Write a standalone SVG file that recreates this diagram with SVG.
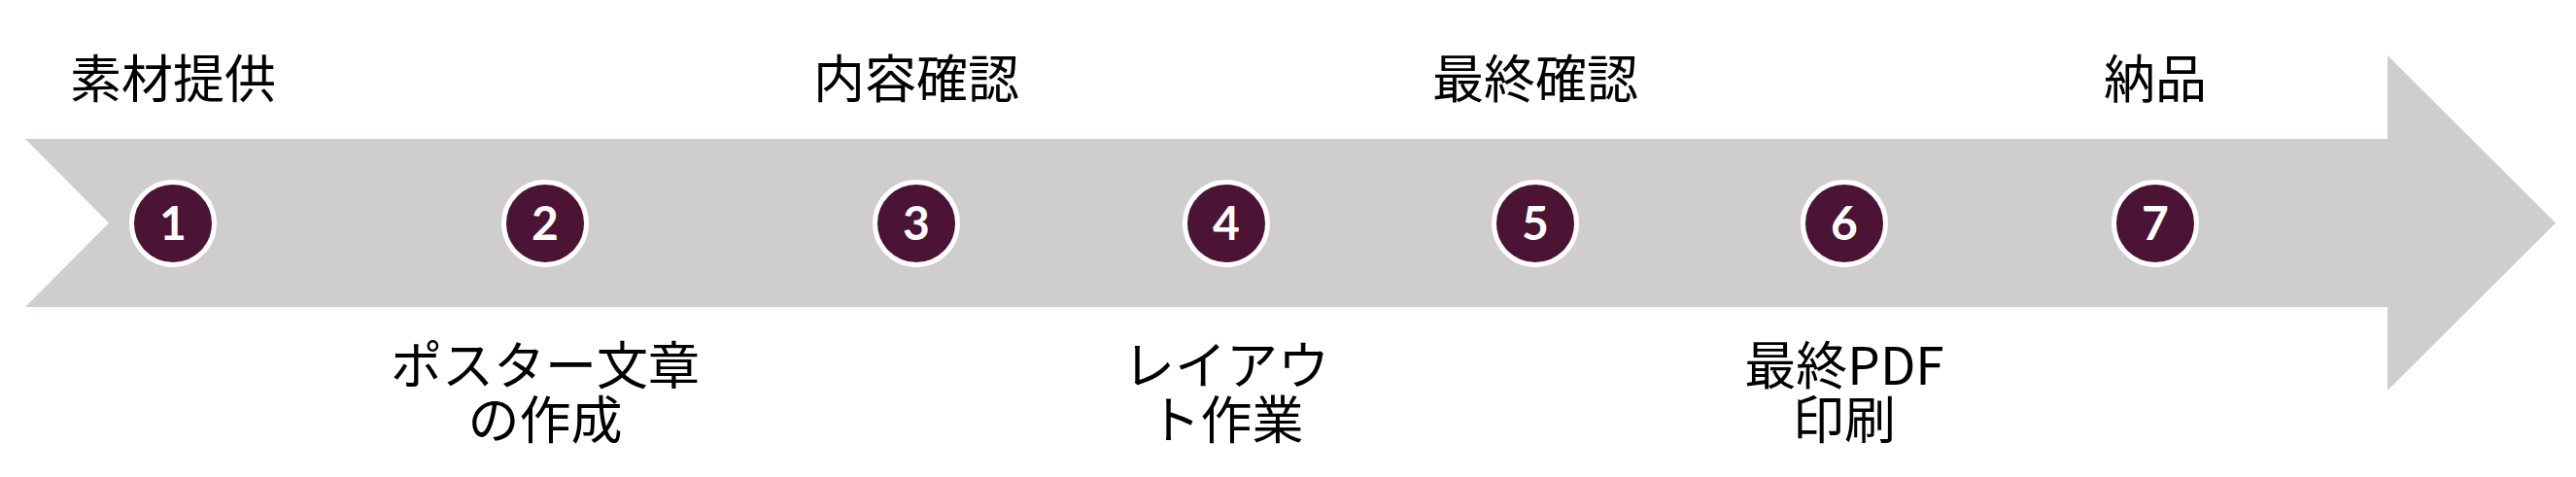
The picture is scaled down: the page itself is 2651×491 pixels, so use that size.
<svg xmlns="http://www.w3.org/2000/svg" width="2651" height="491" viewBox="0 0 2651 491">
<style>
.lbl{font-family:"Noto Sans CJK JP","Noto Sans",sans-serif;font-size:53px;fill:#000;text-anchor:middle}
.dot{fill:#4B1434;stroke:#FFFFFF;stroke-width:5}
.num{font-family:Lato,"Liberation Sans",sans-serif;font-weight:700;font-size:48px;fill:#FFFFFF;text-anchor:middle}
</style>
<rect width="2651" height="491" fill="#FFFFFF"/>
<g id="connectors">
<polygon id="timeline-arrow" points="26,143 2457,143 2457,57 2630,229.5 2457,402 2457,316 26,316 112,229.5" fill="#D0CDCE"/>
</g>
<g id="step1"><circle class="dot" cx="178" cy="230" r="42.5"/><text class="num" x="178" y="247">1</text><text class="lbl" x="178" y="101">素材提供</text></g>
<g id="step2"><circle class="dot" cx="561" cy="230" r="42.5"/><text class="num" x="561" y="247">2</text><text class="lbl" x="561" y="396">ポスター文章<tspan x="561" dy="56">の作成</tspan></text></g>
<g id="step3"><circle class="dot" cx="943" cy="230" r="42.5"/><text class="num" x="943" y="247">3</text><text class="lbl" x="943" y="101">内容確認</text></g>
<g id="step4"><circle class="dot" cx="1262" cy="230" r="42.5"/><text class="num" x="1262" y="247">4</text><text class="lbl" x="1262" y="396">レイアウ<tspan x="1262" dy="56">ト作業</tspan></text></g>
<g id="step5"><circle class="dot" cx="1580" cy="230" r="42.5"/><text class="num" x="1580" y="247">5</text><text class="lbl" x="1580" y="101">最終確認</text></g>
<g id="step6"><circle class="dot" cx="1898" cy="230" r="42.5"/><text class="num" x="1898" y="247">6</text><text class="lbl" x="1898" y="396">最終PDF<tspan x="1898" dy="56">印刷</tspan></text></g>
<g id="step7"><circle class="dot" cx="2218" cy="230" r="42.5"/><text class="num" x="2218" y="247">7</text><text class="lbl" x="2218" y="101">納品</text></g>
</svg>
